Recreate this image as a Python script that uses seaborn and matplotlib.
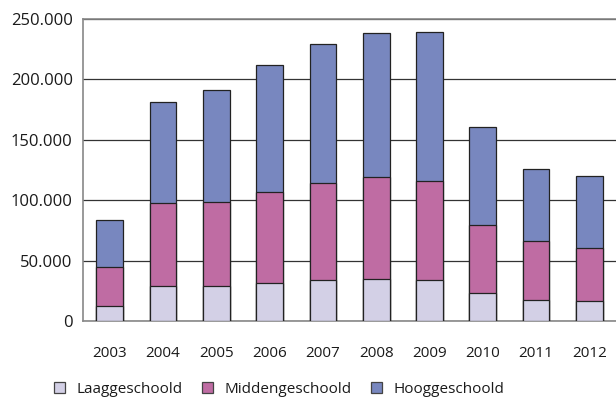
import numpy as np
import pandas as pd
import seaborn as sns
import matplotlib.pyplot as plt
from matplotlib.patches import Patch
from matplotlib.ticker import FuncFormatter, MultipleLocator

years = ['2003', '2004', '2005', '2006', '2007', '2008', '2009', '2010', '2011', '2012']
laag = [12100, 29000, 29000, 31200, 33900, 35000, 34200, 23500, 17700, 16600]
midden = [32300, 68400, 69500, 75300, 80100, 84500, 82000, 56200, 48200, 43800]
hoog = [38900, 83600, 92700, 105100, 115000, 118600, 123300, 80600, 59700, 59400]

labels = ['Laaggeschoold', 'Middengeschoold', 'Hooggeschoold']
colors = ['#D3D0E6', '#BF6CA3', '#7887BF']

df = pd.DataFrame({'jaar': years, 'laag': laag, 'midden': midden, 'hoog': hoog})
df['c1'] = df['laag']
df['c2'] = df['laag'] + df['midden']
df['c3'] = df['c2'] + df['hoog']

sns.set_style('white')
plt.rcParams['font.family'] = ['Open Sans', 'DejaVu Sans']

fig = plt.figure(figsize=(6.16, 4.03), dpi=100)
ax = fig.add_axes([0.135, 0.2035, 0.865, 0.7495])

# stacked bars: draw cumulative totals from the top down
for col, c in zip(['c3', 'c2', 'c1'], colors[::-1]):
    sns.barplot(data=df, x='jaar', y=col, color=c, width=0.5, saturation=1,
                edgecolor='#222222', linewidth=0.9, ax=ax, zorder=3)

ax.set_xlim(-0.5, 9.5)
ax.set_ylim(0, 250000)
ax.yaxis.set_major_locator(MultipleLocator(50000))
ax.yaxis.set_major_formatter(FuncFormatter(lambda v, p: '0' if v == 0 else f'{int(v):,}'.replace(',', '.')))
ax.grid(axis='y', color='#333333', linewidth=0.9, zorder=0)
ax.set_axisbelow(True)
ax.set_xlabel('')
ax.set_ylabel('')

for s in ['left', 'bottom', 'top']:
    ax.spines[s].set_color('#888888')
    ax.spines[s].set_linewidth(1.2)
ax.spines['right'].set_visible(False)

ax.set_xticks(np.arange(0.5, 10, 1), minor=True)
ax.tick_params(axis='x', which='minor', direction='in', length=8, width=1, color='#222222')
ax.tick_params(axis='y', length=0, pad=7.5, labelsize=12, labelcolor='#1a1a1a')
ax.tick_params(axis='x', which='major', length=0, labelsize=11, labelcolor='#1a1a1a')
for t in ax.xaxis.get_major_ticks():
    t.set_pad(18)

handles = [Patch(facecolor=c, edgecolor='#444444', linewidth=0.9) for c in colors]
fig.legend(handles, labels, loc='center left', bbox_to_anchor=(0.065, 0.033), ncol=3,
           frameon=False, fontsize=11, handlelength=0.72, handleheight=0.72,
           handletextpad=0.78, columnspacing=1.25, labelcolor='#1a1a1a')

fig.savefig('out.png', dpi=100)
